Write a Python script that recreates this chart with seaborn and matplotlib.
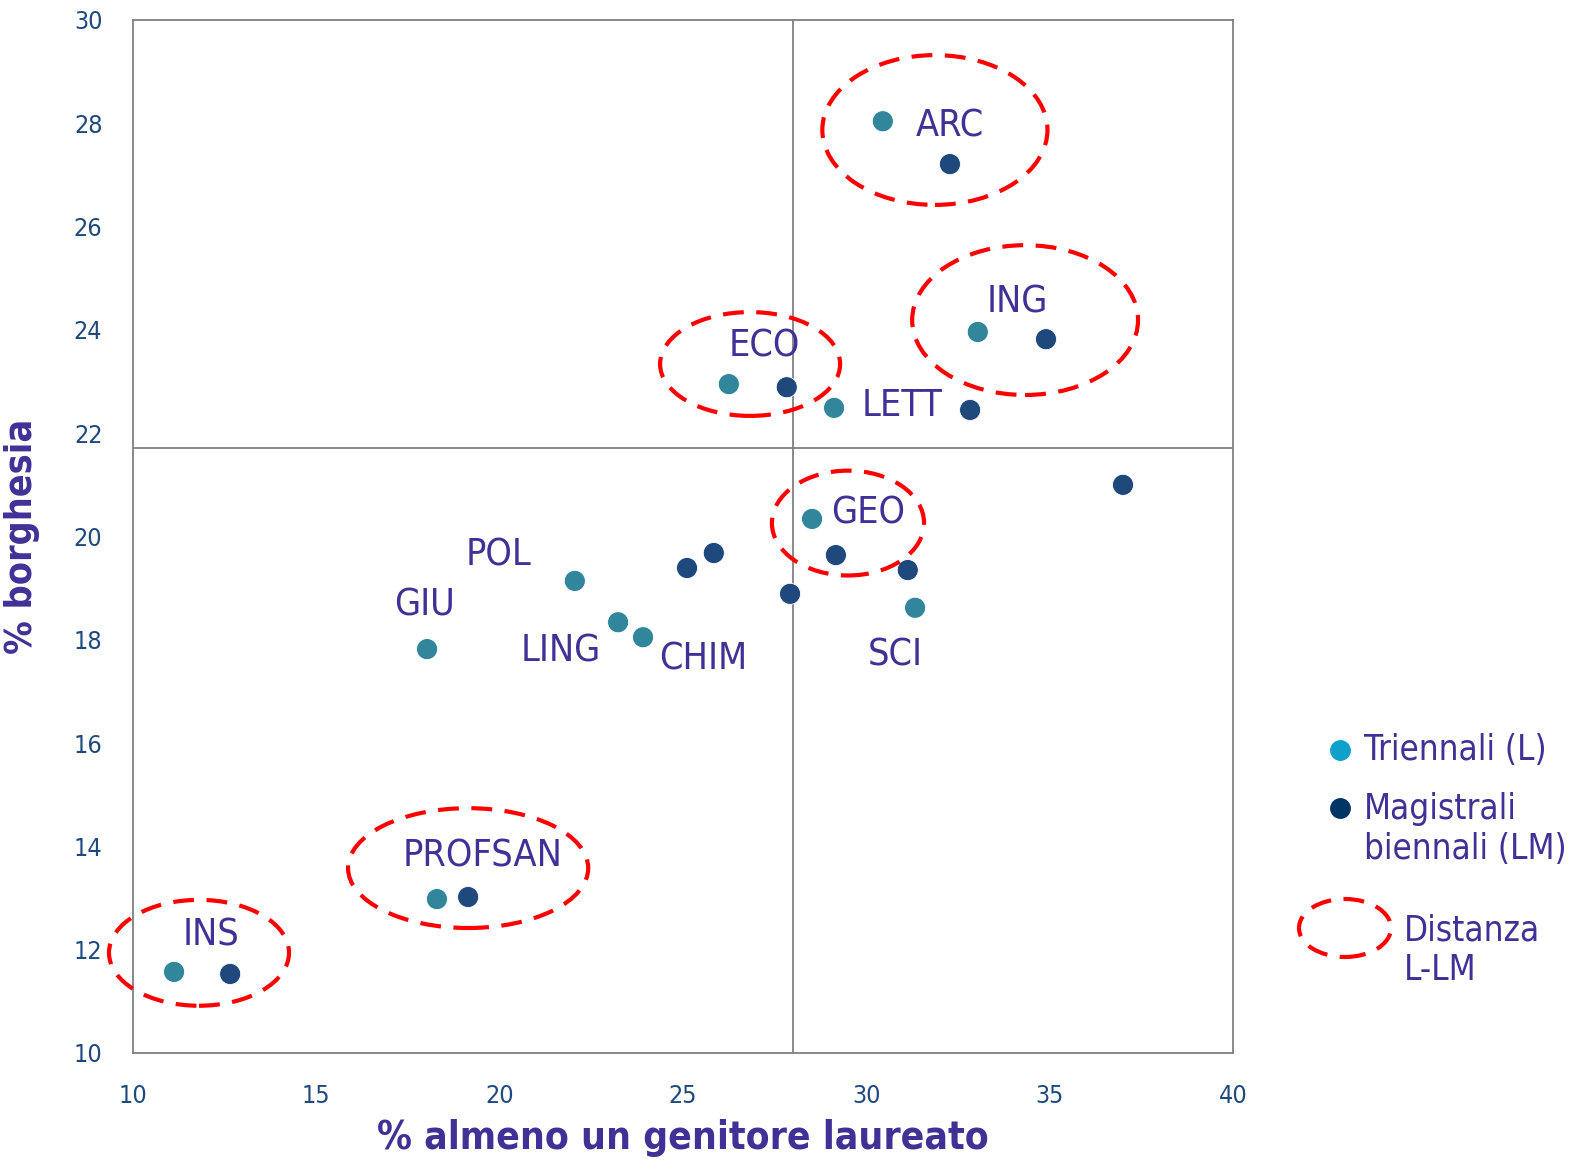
import matplotlib
matplotlib.use("Agg")
import matplotlib.pyplot as plt
from matplotlib.patches import Ellipse
import seaborn as sns
import pandas as pd

# ---- data ----
l_x = [30.45, 33.04, 26.25, 29.12, 28.52, 22.05, 23.23, 23.91, 18.02, 31.33, 18.29, 11.12]
l_y = [28.04, 23.96, 22.95, 22.49, 20.34, 19.14, 18.34, 18.05, 17.82, 18.62, 12.98, 11.57]
lm_x = [32.28, 34.90, 27.83, 32.83, 29.17, 37.00, 25.84, 25.11, 27.92, 31.13, 19.14, 12.65]
lm_y = [27.21, 23.82, 22.89, 22.45, 19.64, 21.00, 19.68, 19.39, 18.89, 19.35, 13.02, 11.53]

label_names = ["ARC", "ING", "ECO", "LETT", "GEO", "POL", "GIU", "LING", "CHIM", "SCI", "PROFSAN", "INS"]
label_x = [32.28, 34.11, 27.23, 30.97, 30.04, 19.98, 17.96, 21.67, 25.54, 30.78, 19.52, 12.13]
label_y = [27.93, 24.54, 23.67, 22.53, 20.44, 19.64, 18.67, 17.78, 17.61, 17.69, 13.81, 12.28]

ell_cx = [31.87, 34.33, 26.83, 29.50, 19.14, 11.80]
ell_cy = [27.87, 24.19, 23.34, 20.26, 13.58, 11.94]
ell_w = [6.14, 6.16, 4.91, 4.15, 6.55, 4.91]
ell_h = [2.90, 2.90, 2.01, 2.03, 2.32, 2.05]

ref_x = 28.0
ref_y = 21.71

x_ticks = [10, 15, 20, 25, 30, 35, 40]
y_ticks = [10, 12, 14, 16, 18, 20, 22, 24, 26, 28, 30]

series_names = ["Triennali (L)", "Magistrali\nbiennali (LM)"]

df = pd.DataFrame({
    "x": l_x + lm_x,
    "y": l_y + lm_y,
    "tipo": [series_names[0]] * len(l_x) + [series_names[1]] * len(lm_x),
})

# ---- style ----
sns.set_style("white")
plt.rcParams["font.family"] = ["DejaVu Sans"]
plt.rcParams["font.stretch"] = "condensed"

TEAL = "#31869B"
NAVY = "#1F497D"
LABEL_C = "#3F3196"
TICK_C = "#1F497D"
RED = "#FF0000"
GRAY = "#808080"

fig = plt.figure(figsize=(15.9, 11.72), dpi=100)
ax = fig.add_axes([133 / 1590, 1 - 1053 / 1172, 1100 / 1590, 1033 / 1172])

ax.axvline(ref_x, color=GRAY, lw=1.3, zorder=1)
ax.axhline(ref_y, color=GRAY, lw=1.3, zorder=1)

sns.scatterplot(data=df, x="x", y="y", hue="tipo", palette=[TEAL, NAVY],
                s=230, edgecolor="white", linewidth=0.6, ax=ax, legend=False, zorder=3)

for cx, cy, w, h in zip(ell_cx, ell_cy, ell_w, ell_h):
    ax.add_patch(Ellipse((cx, cy), w, h, fill=False, edgecolor=RED, lw=3.0,
                         linestyle=(0, (5, 3)), zorder=4, clip_on=False))

for name, tx, ty in zip(label_names, label_x, label_y):
    ax.text(tx, ty, name, color=LABEL_C, fontsize=27, ha="center", va="center", zorder=5)

ax.set_xlim(10, 40)
ax.set_ylim(10, 30)
ax.set_xticks(x_ticks)
ax.set_yticks(y_ticks)
ax.tick_params(axis="both", length=0, labelsize=18, labelcolor=TICK_C)
ax.tick_params(axis="x", pad=22)
ax.tick_params(axis="y", pad=22)
for sp in ax.spines.values():
    sp.set_color(GRAY)
    sp.set_linewidth(1.3)

ax.set_xlabel("% almeno un genitore laureato", fontsize=28, fontweight="bold",
              color=LABEL_C, labelpad=8)
ax.set_ylabel("% borghesia", fontsize=27, fontweight="bold", color=LABEL_C, labelpad=24)

# ---- legend (manual) ----
def fx(px):
    return px / 1590

def fy(py):
    return 1 - py / 1172

fig.lines.append(plt.Line2D([fx(1340)], [fy(750)], marker="o", markersize=14,
                            color="#0FA0CC", transform=fig.transFigure, linestyle="none"))
fig.text(fx(1364), fy(750), series_names[0], color=LABEL_C, fontsize=25, va="center", ha="left")
fig.lines.append(plt.Line2D([fx(1340)], [fy(808)], marker="o", markersize=14,
                            color="#003366", transform=fig.transFigure, linestyle="none"))
fig.text(fx(1364), fy(829), series_names[1], color=LABEL_C, fontsize=25, va="center", ha="left",
         linespacing=1.2)
fig.patches.append(Ellipse((fx(1345), fy(928)), 92 / 1590, 58 / 1172, fill=False,
                           edgecolor=RED, lw=3.0, linestyle=(0, (5, 3)),
                           transform=fig.transFigure))
fig.text(fx(1404), fy(950), "Distanza\nL-LM", color=LABEL_C, fontsize=25, va="center", ha="left",
         linespacing=1.2)

fig.savefig("out.png", dpi=100)
